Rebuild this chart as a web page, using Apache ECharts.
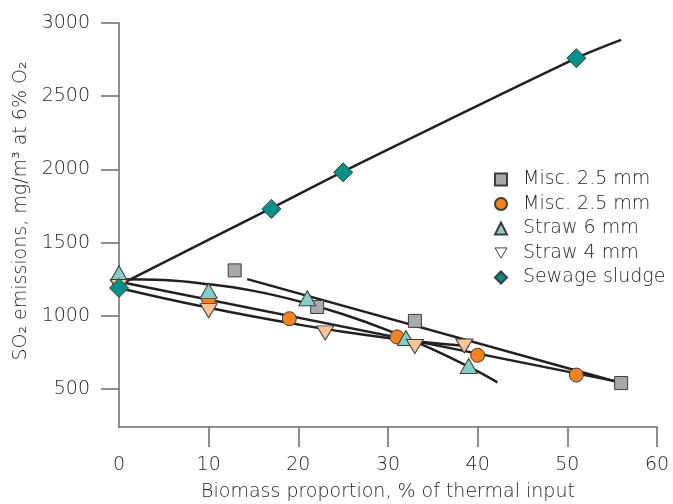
<!DOCTYPE html>
<html>
<head>
<meta charset="utf-8">
<script src="https://cdn.jsdelivr.net/npm/echarts@6/dist/echarts.min.js"></script>
<style>
  html, body { margin: 0; padding: 0; background: #fff; }
  #chart { width: 673px; height: 504px; }
</style>
</head>
<body>
<div id="chart"></div>
<script>
// tick values
const xTicks = [0, 10, 20, 30, 40, 50, 60]
const yTicks = [500, 1000, 1500, 2000, 2500, 3000]

// measured points
const miscSqX = [12.9, 22.1, 33.0, 56.0]
const miscSqY = [1310, 1060, 965, 540]
const miscCircX = [0, 10, 19, 31, 40, 51]
const miscCircY = [1230, 1110, 980, 855, 730, 595]
const straw6X = [0, 10, 21, 32, 39]
const straw6Y = [1290, 1170, 1120, 848, 657]
const straw4X = [0, 10, 23, 33, 38.5]
const straw4Y = [1200, 1035, 883, 790, 793]
const sludgeX = [0, 17, 25, 51]
const sludgeY = [1190, 1730, 1980, 2760]

// fitted lines
const sludgeFitX = [0, 17, 25, 51, 56]
const sludgeFitY = [1210, 1735, 1985, 2760, 2885]
const miscSqFitX = [14.3, 56]
const miscSqFitY = [1250, 541]
const miscCircFitX = [0, 56]
const miscCircFitY = [1232, 545]
const straw6FitX = [0, 5, 10, 15, 20, 25, 30, 35, 40, 42.2]
const straw6FitY = [1250, 1245, 1215, 1170, 1100, 1010, 900, 770, 620, 545]
const straw4FitX = [0, 5, 10, 15, 20, 25, 30, 35, 39]
const straw4FitY = [1190, 1120, 1055, 995, 940, 890, 848, 814, 792]

const zip = (xs, ys) => xs.map((x, i) => [x, ys[i]])

const font = 'DejaVu Sans'
const fontW = 200
const fontS = 19
const textColor = '#262626'
const axisColor = '#6b6b6b'
const lineColor = '#231f20'
const border = { borderColor: '#3d3d3d', borderWidth: 1 }
const downTri = 'path://M0,0 L20,0 L10,17 Z'

function fitLine(xs, ys, smooth) {
  return {
    type: 'line',
    data: zip(xs, ys),
    showSymbol: false,
    smooth: smooth,
    lineStyle: { color: lineColor, width: 2.5 },
    z: 1,
    silent: true
  }
}

const option = {
  animation: false,
  grid: { left: 119, right: 16, top: 23, bottom: 77, outerBoundsMode: 'none' },
  legend: {
    orient: 'vertical',
    left: 494,
    top: 170,
    padding: 0,
    itemWidth: 12,
    itemHeight: 12,
    itemGap: 5.5,
    formatter: name => name.trim(),
    textStyle: {
      fontFamily: font, fontWeight: fontW, fontSize: fontS, color: textColor,
      lineHeight: 18, padding: [0, 0, 0, 11]
    },
    data: [
      { name: 'Misc. 2.5 mm', icon: 'rect' },
      { name: 'Misc. 2.5 mm ', icon: 'circle' },
      { name: 'Straw 6 mm', icon: 'triangle' },
      { name: 'Straw 4 mm', icon: downTri, itemStyle: { color: '#fff', borderColor: '#3d3d3d', borderWidth: 1 } },
      { name: 'Sewage sludge', icon: 'diamond' }
    ]
  },
  xAxis: {
    type: 'value',
    min: 0,
    max: 60,
    interval: 10,
    name: 'Biomass proportion, % of thermal input',
    nameLocation: 'middle',
    nameGap: 56,
    nameTextStyle: { fontFamily: font, fontWeight: fontW, fontSize: fontS, color: textColor },
    splitLine: { show: false },
    axisLine: { lineStyle: { color: axisColor, width: 1.5 } },
    axisTick: { length: 20, lineStyle: { color: axisColor, width: 1.5 }, customValues: [10, 20, 30, 40, 50, 60] },
    axisLabel: { margin: 29, fontFamily: font, fontWeight: fontW, fontSize: fontS, color: textColor, customValues: xTicks }
  },
  yAxis: {
    type: 'value',
    min: 240,
    max: 3000,
    name: 'SO\u2082 emissions, mg/m\u00b3 at 6% O\u2082',
    nameLocation: 'middle',
    nameGap: 85,
    nameTextStyle: { fontFamily: font, fontWeight: fontW, fontSize: fontS, color: textColor, padding: [0, 0, 0, 28] },
    splitLine: { show: false },
    axisLine: { show: true, lineStyle: { color: axisColor, width: 1.5 } },
    axisTick: { length: 18, lineStyle: { color: axisColor, width: 1.5 }, customValues: yTicks },
    axisLabel: {
      margin: 29, fontFamily: font, fontWeight: fontW, fontSize: fontS, color: textColor,
      customValues: yTicks, formatter: v => String(v)
    }
  },
  series: [
    fitLine(sludgeFitX, sludgeFitY, 0.3),
    fitLine(miscSqFitX, miscSqFitY, false),
    fitLine(miscCircFitX, miscCircFitY, false),
    fitLine(straw6FitX, straw6FitY, 0.4),
    fitLine(straw4FitX, straw4FitY, 0.4),
    {
      name: 'Misc. 2.5 mm',
      type: 'scatter',
      data: zip(miscSqX, miscSqY),
      symbol: 'rect',
      symbolSize: 13,
      itemStyle: Object.assign({ color: '#a8a9ad', opacity: 1 }, border),
      z: 2
    },
    {
      name: 'Misc. 2.5 mm ',
      type: 'scatter',
      data: zip(miscCircX, miscCircY),
      symbol: 'circle',
      symbolSize: 14,
      itemStyle: Object.assign({ color: '#f5821f', opacity: 1 }, border),
      z: 2
    },
    {
      name: 'Straw 6 mm',
      type: 'scatter',
      data: zip(straw6X, straw6Y),
      symbol: 'triangle',
      symbolSize: [17, 15],
      itemStyle: Object.assign({ color: '#86cdc8', opacity: 1 }, border),
      z: 2
    },
    {
      name: 'Straw 4 mm',
      type: 'scatter',
      data: zip(straw4X, straw4Y),
      symbol: downTri,
      symbolSize: [17, 14],
      itemStyle: Object.assign({ color: '#fcc497', opacity: 1 }, border),
      z: 2
    },
    {
      name: 'Sewage sludge',
      type: 'scatter',
      data: zip(sludgeX, sludgeY),
      symbol: 'diamond',
      symbolSize: 19,
      itemStyle: Object.assign({ color: '#00918a', opacity: 1 }, border),
      z: 3
    }
  ]
}

const myChart = echarts.init(document.getElementById('chart'))
myChart.setOption(option)
window.addEventListener('resize', () => { myChart.resize() })
</script>
</body>
</html>
